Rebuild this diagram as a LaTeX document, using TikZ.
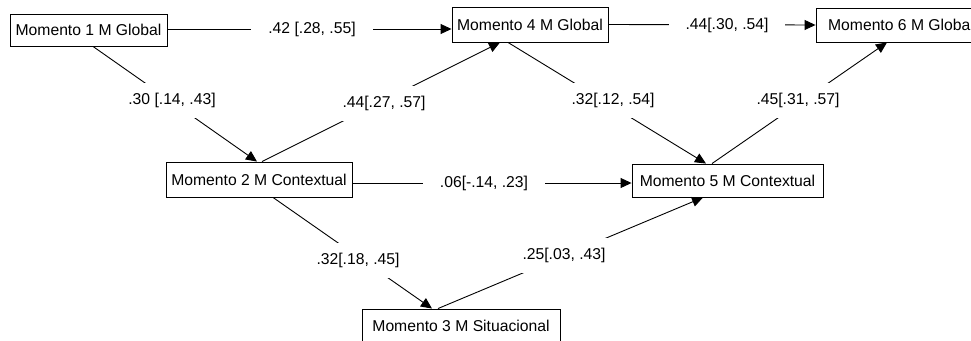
\documentclass[tikz,border=0pt]{standalone}
\usepackage{fontspec}
\setmainfont{Liberation Sans}
\usetikzlibrary{arrows.meta,calc}
\begin{document}
\begin{tikzpicture}[x=1pt,y=-1pt,
  box/.style={draw=black, line width=0.9pt, inner sep=0pt, font=\fontsize{15.7}{18}\selectfont, text=black},
  lbl/.style={fill=white, inner xsep=17pt, inner ysep=0pt, minimum height=35pt, font=\fontsize{15.7}{18}\selectfont, text=black},
  arr/.style={line width=0.9pt, -{Triangle[length=11pt,width=10pt]}}]
\useasboundingbox (0,0) rectangle (971,340);
\clip (0,0) rectangle (971,340);
\node[box, minimum width=157pt, minimum height=32pt] (b1) at (88.5,30) {Momento 1 M Global};
\node[box, minimum width=156pt, minimum height=35pt] (b4) at (530,24.5) {Momento 4 M Global};
\node[box, minimum width=170pt, minimum height=34pt] (b6) at (901,25) {Momento 6 M Global};
\node[box, minimum width=186pt, minimum height=35pt] (b2) at (259,179.5) {Momento 2 M Contextual};
\node[box, minimum width=191pt, minimum height=33pt] (b5) at (727.5,180.5) {Momento 5 M Contextual};
\node[box, minimum width=198pt, minimum height=34pt] (b3) at (461,326) {Momento 3 M Situacional};
% connectors
\draw[arr] ($(b1.east)+(0,-1)$) -- ($(b4.west)+(0,4.5)$);
\draw[arr] (b4.east) -- (b6.west);
\draw[arr] ($(b2.east)+(0,3.5)$) -- ($(b5.west)+(0,2.5)$);
\draw[arr] ($(b1.south)+(4.5,0)$) -- ($(b2.north)+(-2,0)$);
\draw[arr] ($(b2.north)+(3,0)$) -- ($(b4.south)+(-30,0)$);
\draw[arr] ($(b4.south)+(-22,0)$) -- ($(b5.north)+(-21.5,0)$);
\draw[arr] ($(b5.north)+(-15.5,0)$) -- ($(b6.south)+(-14,0)$);
\draw[arr] ($(b2.south)+(14,0)$) -- ($(b3.north)+(-29,0)$);
\draw[arr] ($(b3.north)+(-23,0)$) -- ($(b5.south)+(-24.5,0)$);
% labels
\node[lbl] (l14) at (312,29) {.42 [.28, .55]};
\node[lbl] (l46) at (727,25) {.44[.30, .54]};
\node[lbl] (l12) at (172,100) {.30 [.14, .43]};
\node[lbl] (l24) at (384,103) {.44[.27, .57]};
\node[lbl] (l45) at (613,100) {.32[.12, .54]};
\node[lbl] (l56) at (798,100) {.45[.31, .57]};
\node[lbl] (l25) at (484,183) {.06[-.14, .23]};
\node[lbl] (l23) at (358,260) {.32[.18, .45]};
\node[lbl] (l35) at (564,255) {.25[.03, .43]};
\end{tikzpicture}
\end{document}
